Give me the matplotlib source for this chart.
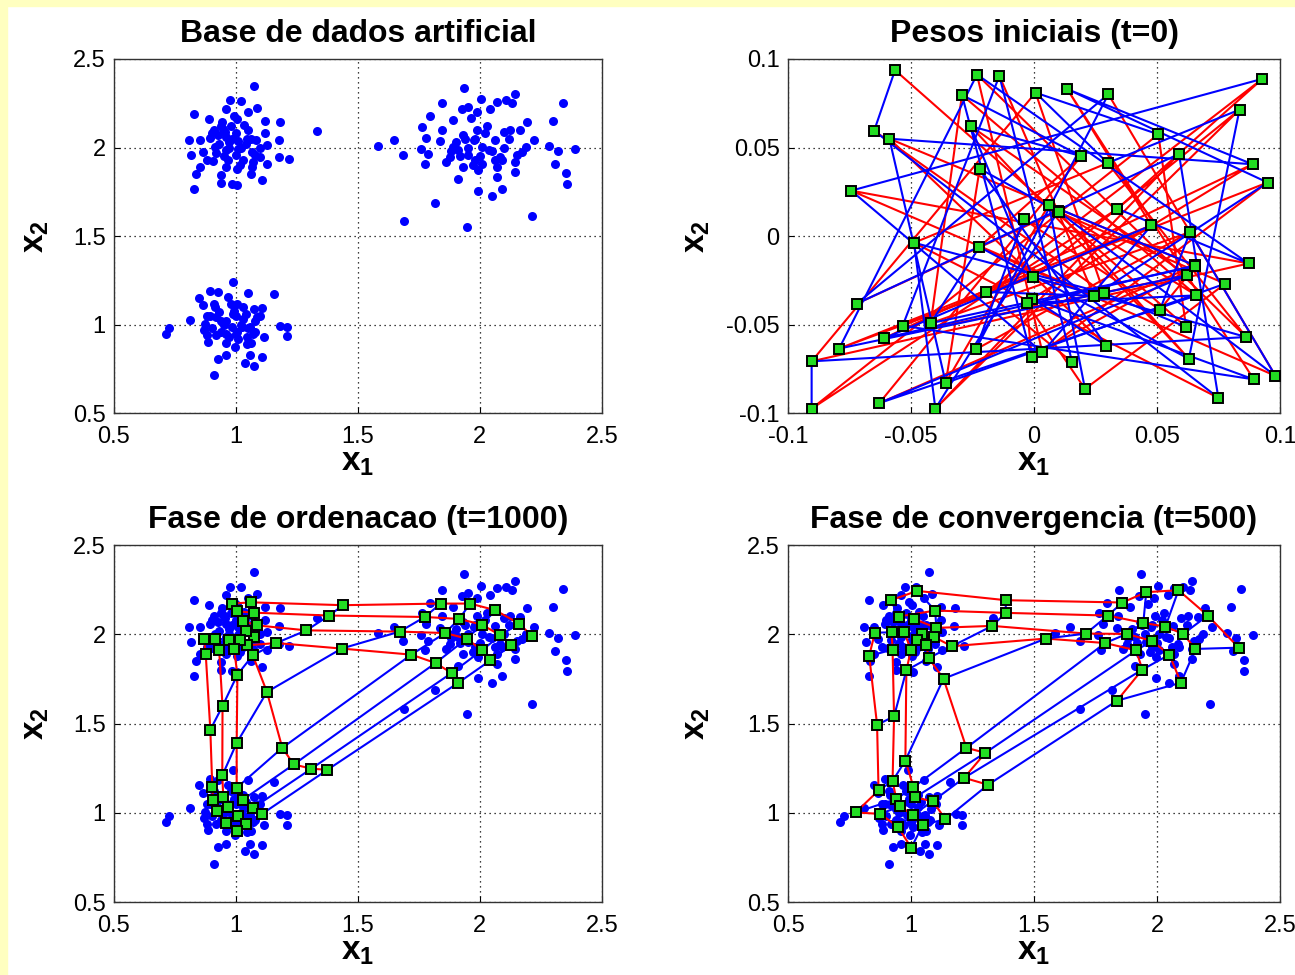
import numpy as np
import matplotlib
matplotlib.use('Agg')
import matplotlib.pyplot as plt
from matplotlib.patches import Rectangle

plt.rcParams['font.family'] = 'Liberation Sans'
plt.rcParams['mathtext.fontset'] = 'custom'
plt.rcParams['mathtext.rm'] = 'Liberation Sans'
plt.rcParams['mathtext.it'] = 'Liberation Sans:italic'
plt.rcParams['mathtext.bf'] = 'Liberation Sans:bold'

# base de dados: tres nuvens de pontos
c1_x = [1.072, 0.828, 0.888, 0.975, 1.019, 0.959, 1.051, 1.085, 1.120, 1.179, 1.003, 0.941, 1.033,
        1.333, 0.807, 0.851, 0.893, 0.927, 0.955, 0.982, 1.044, 1.083, 1.127, 1.175, 0.817, 0.865,
        0.913, 0.961, 1.010, 1.065, 1.099, 1.175, 1.216, 0.906, 0.968, 1.017, 1.065, 1.127, 0.851,
        0.835, 0.937, 1.003, 1.061, 1.106, 0.937, 0.983, 1.006, 0.828, 0.945,
        0.93, 0.97, 1.00, 1.02, 0.95, 1.05, 1.08, 0.90, 0.98, 1.03, 0.96, 1.10, 0.92, 1.06, 1.00,
        0.94, 0.99, 1.04, 0.88, 1.01, 0.96, 1.07, 0.91, 1.12, 0.97]
c1_y = [2.347, 2.192, 2.164, 2.267, 2.264, 2.220, 2.201, 2.226, 2.151, 2.145, 2.164, 2.145, 2.126,
        2.092, 2.041, 2.041, 2.056, 2.070, 2.089, 2.051, 2.051, 2.045, 2.013, 2.045, 1.957, 1.976,
        2.004, 1.985, 1.994, 1.976, 1.947, 1.947, 1.934, 1.925, 1.928, 1.900, 1.891, 1.910, 1.891,
        1.849, 1.844, 1.881, 1.849, 1.819, 1.800, 1.797, 1.787, 1.768, 2.107,
        2.02, 2.03, 2.08, 2.00, 1.95, 2.10, 1.96, 2.08, 2.12, 1.93, 2.06, 2.00, 1.97, 2.05, 1.96,
        2.12, 2.18, 2.02, 1.93, 2.04, 1.89, 1.92, 2.10, 2.08, 2.00]

c2_x = [1.935, 2.143, 2.342, 2.004, 2.070, 2.107, 2.132, 1.846, 1.926, 1.953, 1.988, 2.043, 1.795,
        1.964, 1.891, 2.194, 2.300, 1.763, 1.843, 2.097, 2.125, 2.166, 1.647, 1.781, 1.837, 1.939,
        1.974, 2.063, 2.222, 1.584, 1.758, 1.891, 2.008, 2.187, 2.284, 2.391, 1.685, 1.788, 1.877,
        1.953, 2.084, 2.171, 2.322, 1.774, 1.932, 2.008, 2.070, 2.143, 2.309, 1.994, 2.143, 1.909,
        2.070, 2.353, 1.994, 2.049, 2.091, 2.355, 1.815, 1.687, 1.949, 2.215, 1.912, 1.981, 2.036,
        1.95, 2.00, 1.98, 2.05, 1.92, 2.02, 1.90, 2.10, 1.97, 2.06, 1.88, 2.12,
        2.15, 1.86, 2.03, 1.99, 2.09, 1.93]
c2_y = [2.339, 2.301, 2.254, 2.273, 2.258, 2.267, 2.249, 2.249, 2.215, 2.230, 2.201, 2.220, 2.177,
        2.169, 2.154, 2.145, 2.151, 2.117, 2.102, 2.089, 2.102, 2.098, 2.041, 2.056, 2.038, 2.051,
        2.041, 2.045, 2.041, 2.008, 1.994, 2.004, 2.004, 2.004, 2.008, 1.994, 1.960, 1.962, 1.947,
        1.957, 1.947, 1.976, 1.981, 1.910, 1.891, 1.910, 1.891, 1.919, 1.906, 1.872, 1.863, 1.825,
        1.834, 1.857, 1.755, 1.727, 1.768, 1.793, 1.687, 1.584, 1.552, 1.612, 1.985, 1.928, 1.985,
        2.00, 1.95, 2.05, 1.98, 1.95, 2.08, 2.03, 2.00, 1.90, 1.93, 1.98, 2.05,
        1.96, 1.92, 2.12, 2.10, 1.93, 2.07]

c3_x = [0.986, 0.893, 0.927, 0.849, 0.966, 1.051, 1.157, 0.866, 0.913, 1.003, 1.072, 1.106, 0.810,
        0.872, 0.920, 0.961, 1.030, 1.085, 0.727, 0.713, 0.880, 0.920, 0.961, 1.003, 1.044, 1.079,
        1.113, 1.182, 1.209, 1.209, 0.886, 0.997, 1.044, 0.927, 0.961, 1.058, 1.106, 1.037, 1.074,
        0.909, 0.982, 1.023, 1.058, 0.989, 0.893,
        0.95, 1.00, 1.05, 0.90, 0.97, 1.03, 0.93, 1.08, 1.00, 0.98, 1.06, 0.88, 1.02, 0.94, 1.10,
        0.91, 0.99, 1.04, 0.96, 1.01, 0.87, 1.07, 0.94]
c3_y = [1.241, 1.190, 1.185, 1.153, 1.156, 1.181, 1.175, 1.109, 1.100, 1.119, 1.090, 1.096, 1.028,
        1.006, 1.043, 1.024, 1.034, 1.043, 0.983, 0.949, 0.940, 0.940, 0.949, 0.959, 0.930, 0.959,
        0.930, 0.996, 0.987, 0.934, 0.902, 0.874, 0.893, 0.808, 0.827, 0.827, 0.817, 0.785, 0.767,
        0.714, 0.987, 0.987, 0.987, 1.062, 1.051,
        1.00, 1.05, 0.98, 0.98, 0.93, 1.10, 1.07, 1.02, 0.95, 1.12, 0.90, 1.05, 1.00, 0.96, 1.05,
        1.12, 1.08, 1.06, 0.90, 0.92, 0.97, 0.95, 1.02]

# pesos iniciais (t=0): 64 neuronios
t0_x = [-0.0565, -0.0232, -0.0141, -0.0293, 0.0006, 0.0135, 0.0302, 0.0928, 0.0835, -0.0650,
        -0.0588, -0.0258, 0.0505, 0.0589, -0.0221, 0.0192, 0.0299, 0.0888, -0.0743, 0.0949,
        0.0098, 0.0339, -0.0042, 0.0477, 0.0634, -0.0488, -0.0222, 0.0872, 0.0654, -0.0006,
        -0.0196, 0.0777, 0.0284, 0.0660, -0.0008, -0.0721, 0.0512, -0.0534, -0.0420, 0.0618,
        -0.0609, -0.0237, 0.0862, -0.0792, -0.0904, -0.0010, 0.0034, 0.0293, 0.0629, 0.0155,
        0.0207, 0.0893, 0.0981, -0.0359, 0.0749, -0.0629, -0.0904, -0.0401, 0.0060, 0.0622,
        -0.0030, 0.0244, 0.0100, 0.0655]
t0_y = [0.0937, 0.0912, 0.0905, 0.0797, 0.0810, 0.0830, 0.0801, 0.0888, 0.0714, 0.0595,
        0.0550, 0.0621, 0.0575, 0.0464, 0.0381, 0.0452, 0.0413, 0.0406, 0.0257, 0.0303,
        0.0141, 0.0155, 0.0095, 0.0061, 0.0023, -0.0037, -0.0061, -0.0154, -0.0165, -0.0230,
        -0.0315, -0.0268, -0.0321, -0.0334, -0.0352, -0.0381, -0.0414, -0.0505, -0.0491, -0.0512,
        -0.0576, -0.0639, -0.0569, -0.0634, -0.0706, -0.0680, -0.0656, -0.0617, -0.0692, -0.0711,
        -0.0862, -0.0808, -0.0788, -0.0828, -0.0912, -0.0942, -0.0973, -0.0973, 0.0177, -0.0220,
        -0.0377, -0.0336, 0.0135, -0.0170]
# posicao de cada neuronio na grade 8x8
t0_grid = [[1, 40, 13, 57, 22, 8, 31, 50],
           [10, 33, 5, 45, 28, 19, 62, 3],
           [55, 26, 17, 43, 2, 47, 20, 38],
           [14, 58, 9, 30, 44, 24, 6, 52],
           [36, 21, 49, 12, 60, 41, 18, 35],
           [7, 53, 27, 16, 56, 29, 11, 48],
           [42, 25, 39, 4, 34, 59, 54, 15],
           [23, 37, 64, 46, 61, 51, 32, 63]]

# fase de ordenacao (t=1000)
t1000_x = [[0.985, 1.061, 1.439, 1.839, 1.960, 2.063, 2.160, 2.215],
           [1.003, 1.074, 1.382, 1.774, 1.915, 2.008, 2.084, 2.129],
           [1.028, 1.085, 1.289, 1.671, 1.857, 1.946, 2.008, 2.043],
           [1.074, 1.044, 1.165, 1.433, 1.719, 1.818, 1.884, 1.912],
           [1.040, 1.017, 1.069, 1.127, 1.190, 1.237, 1.309, 1.375],
           [0.972, 0.992, 1.006, 1.003, 1.003, 1.028, 1.069, 1.107],
           [0.915, 0.931, 0.945, 0.944, 0.948, 0.968, 1.008, 1.040],
           [0.869, 0.876, 0.895, 0.903, 0.906, 0.922, 0.961, 1.003]]
t1000_y = [[2.172, 2.179, 2.163, 2.172, 2.172, 2.135, 2.060, 1.989],
           [2.129, 2.121, 2.105, 2.097, 2.086, 2.054, 1.994, 1.938],
           [2.075, 2.050, 2.022, 2.015, 2.007, 1.976, 1.910, 1.854],
           [1.985, 1.938, 1.951, 1.920, 1.886, 1.839, 1.783, 1.729],
           [2.019, 1.970, 1.882, 1.677, 1.364, 1.271, 1.247, 1.241],
           [1.970, 1.920, 1.774, 1.391, 1.140, 1.073, 1.026, 0.994],
           [1.976, 1.914, 1.598, 1.209, 1.088, 1.032, 0.983, 0.935],
           [1.976, 1.892, 1.465, 1.144, 1.069, 1.009, 0.942, 0.897]]

# fase de convergencia (t=500)
t500_x = [[0.918, 1.025, 1.385, 1.859, 1.956, 2.087, 2.206, 2.332],
          [0.950, 1.098, 1.385, 1.800, 1.944, 2.034, 2.106, 2.156],
          [1.012, 1.103, 1.330, 1.711, 1.877, 1.979, 2.050, 2.097],
          [1.044, 1.093, 1.166, 1.548, 1.789, 1.915, 1.940, 1.837],
          [1.026, 1.062, 1.072, 1.132, 1.225, 1.302, 1.216, 1.313],
          [0.972, 1.000, 0.981, 0.977, 1.010, 1.016, 1.088, 1.140],
          [0.921, 0.925, 0.931, 0.925, 0.940, 0.957, 1.007, 1.048],
          [0.853, 0.830, 0.862, 0.868, 0.775, 0.874, 0.946, 1.001]]
t500_y = [[2.191, 2.243, 2.191, 2.178, 2.236, 2.247, 2.105, 1.925],
          [2.099, 2.133, 2.120, 2.105, 2.064, 2.043, 2.002, 1.918],
          [2.086, 2.036, 2.047, 2.004, 2.002, 1.963, 1.886, 1.729],
          [2.000, 1.985, 1.933, 1.976, 1.951, 1.910, 1.802, 1.628],
          [1.970, 1.940, 1.867, 1.751, 1.364, 1.336, 1.196, 1.157],
          [2.011, 1.914, 1.798, 1.293, 1.144, 1.086, 1.065, 0.964],
          [2.011, 1.914, 1.540, 1.178, 1.077, 1.036, 0.987, 0.933],
          [2.009, 1.879, 1.493, 1.125, 1.002, 0.994, 0.923, 0.804]]

titles = ['Base de dados artificial', 'Pesos iniciais (t=0)',
          'Fase de ordenacao (t=1000)', 'Fase de convergencia (t=500)']

data_x = c1_x + c2_x + c3_x
data_y = c1_y + c2_y + c3_y


def desenha_grade(ax, gx, gy):
    gx = np.array(gx)
    gy = np.array(gy)
    for i in range(gx.shape[0]):
        ax.plot(gx[i, :], gy[i, :], '-', color=(1, 0, 0), lw=1.5, zorder=2)
    for j in range(gx.shape[1]):
        ax.plot(gx[:, j], gy[:, j], '-', color=(0, 0, 1), lw=1.5, zorder=3)
    ax.plot(gx.ravel(), gy.ravel(), 's', mfc='#22dd22', mec='k', mew=1.4, ms=7.2, zorder=4)


def eixos(ax, titulo, ticks, rotulos, ylab_x):
    ax.set_xlim(ticks[0], ticks[-1])
    ax.set_ylim(ticks[0], ticks[-1])
    ax.set_xticks(ticks)
    ax.set_yticks(ticks)
    ax.set_xticklabels(rotulos)
    ax.set_yticklabels(rotulos)
    ax.tick_params(direction='in', length=4, labelsize=17, colors='k')
    ax.tick_params(axis='x', pad=9)
    ax.tick_params(axis='y', pad=6)
    ax.grid(True, linestyle=(0, (1, 3)), color='k', lw=0.9)
    ax.set_axisbelow(True)
    for s in ax.spines.values():
        s.set_color('#333333')
        s.set_linewidth(1.0)
    ax.set_title(titulo, fontsize=23, fontweight='bold', pad=12)
    ax.set_xlabel(r'$\mathbf{x_1}$', fontsize=24)
    ax.set_ylabel(r'$\mathbf{x_2}$', fontsize=24)
    ax.xaxis.set_label_coords(0.5, -0.095)
    ax.yaxis.set_label_coords(ylab_x, 0.5)


fig = plt.figure(figsize=(12.95, 9.75), dpi=100)
fig.patches.append(Rectangle((0, 1 - 6 / 975), 1, 6 / 975, transform=fig.transFigure,
                             color='#ffffc0', zorder=-5))
fig.patches.append(Rectangle((0, 0), 7 / 1295, 1, transform=fig.transFigure,
                             color='#ffffc0', zorder=-5))

ax1 = fig.add_axes([0.0880, 0.5760, 0.3768, 0.3635])
ax2 = fig.add_axes([0.6085, 0.5760, 0.3800, 0.3635])
ax3 = fig.add_axes([0.0880, 0.0748, 0.3768, 0.3662])
ax4 = fig.add_axes([0.6085, 0.0748, 0.3800, 0.3662])

tk = [0.5, 1, 1.5, 2, 2.5]
tk_lab = ['0.5', '1', '1.5', '2', '2.5']
tk0 = [-0.1, -0.05, 0, 0.05, 0.1]
tk0_lab = ['-0.1', '-0.05', '0', '0.05', '0.1']

# dados
ax1.plot(data_x, data_y, 'o', color=(0, 0, 1), ms=6.5, mew=0, zorder=2)
eixos(ax1, titles[0], tk, tk_lab, -0.13)

# pesos iniciais
idx = np.array(t0_grid) - 1
desenha_grade(ax2, np.array(t0_x)[idx], np.array(t0_y)[idx])
eixos(ax2, titles[1], tk0, tk0_lab, -0.155)

# ordenacao
ax3.plot(data_x, data_y, 'o', color=(0, 0, 1), ms=6.5, mew=0, zorder=1)
desenha_grade(ax3, t1000_x, t1000_y)
eixos(ax3, titles[2], tk, tk_lab, -0.13)

# convergencia
ax4.plot(data_x, data_y, 'o', color=(0, 0, 1), ms=6.5, mew=0, zorder=1)
desenha_grade(ax4, t500_x, t500_y)
eixos(ax4, titles[3], tk, tk_lab, -0.155)

fig.savefig('out.png', dpi=100, facecolor='white')
